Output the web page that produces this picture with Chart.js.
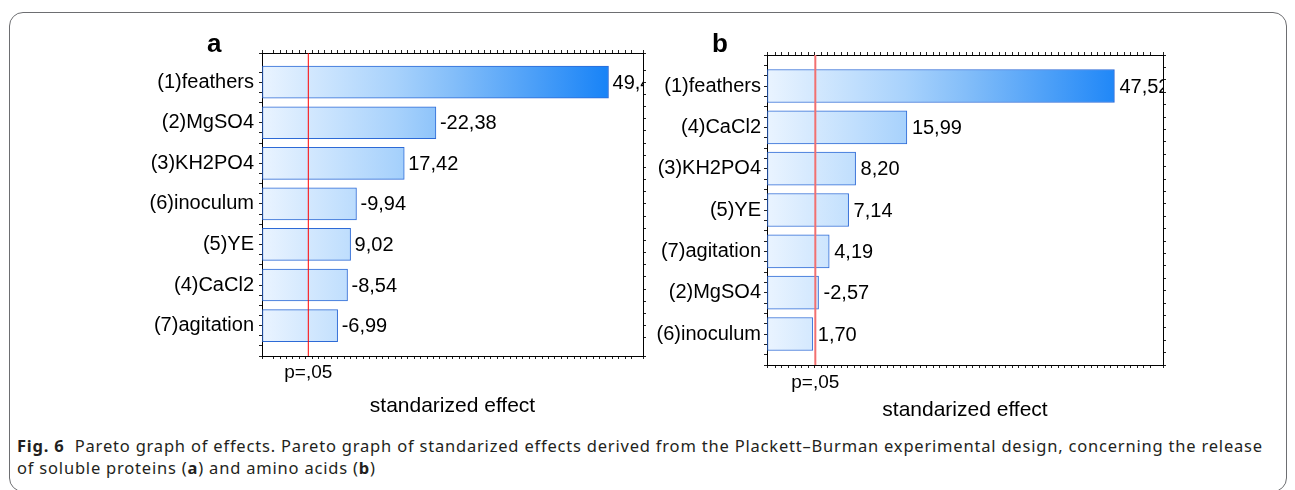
<!DOCTYPE html>
<html>
<head>
<meta charset="utf-8">
<script src="https://cdn.jsdelivr.net/npm/chart.js@4.4.0/dist/chart.umd.min.js"></script>
<style>
  body { margin: 0; width: 1295px; height: 490px; background: #fff; position: relative; overflow: hidden;
         font-family: "Liberation Sans", Arial, sans-serif; color: #000; }
  .frame { position: absolute; left: 9px; top: 12px; width: 1278px; height: 480px;
           border: 1px solid #6d6e71; border-radius: 14px; box-sizing: border-box; }
  .panel { position: absolute; top: 0; height: 430px; }
  .letter { position: absolute; top: 30px; font-weight: bold; font-size: 26px; line-height: 26px; }
  .caption { position: absolute; left: 17px; top: 435px; font-family: "Noto Sans", sans-serif; font-size: 16.5px;
             letter-spacing: 0.8px; line-height: 22px; color: #231f20; white-space: nowrap; }
</style>
</head>
<body>
<div class="frame"></div>
<div class="panel" style="left:0;width:660px"><canvas id="chartA"></canvas></div>
<div class="panel" style="left:650px;width:640px"><canvas id="chartB"></canvas></div>
<div class="letter" style="left:207px">a</div>
<div class="letter" style="left:712px">b</div>
<div class="caption"><b>Fig. 6</b>&nbsp; Pareto graph of effects. Pareto graph of standarized effects derived from the Plackett–Burman experimental design, concerning the release<br>of soluble proteins (<b>a</b>) and amino acids (<b>b</b>)</div>

<script>
// panel a: soluble proteins
const categoriesA = ["(1)feathers", "(2)MgSO4", "(3)KH2PO4", "(6)inoculum", "(5)YE", "(4)CaCl2", "(7)agitation"];
const effectsA = [49.4, -22.38, 17.42, -9.94, 9.02, -8.54, -6.99];
const xRangeA = [-4.85, 54.8];
const pCritA = 2.4;

// panel b: amino acids
const categoriesB = ["(1)feathers", "(4)CaCl2", "(3)KH2PO4", "(5)YE", "(7)agitation", "(2)MgSO4", "(6)inoculum"];
const effectsB = [47.52, 15.99, 8.20, 7.14, 4.19, -2.57, 1.70];
const xRangeB = [-5.26, 54.9];
const pCritB = 2.08;

const pLabel = "p=,05";
const axisTitle = "standarized effect";

const FONT = "'Liberation Sans', Arial, sans-serif";

function fillGradient(c) {
    const area = c.chart.chartArea;
    if (!area) return '#9ccbfb';
    const g = c.chart.ctx.createLinearGradient(area.left, 0, area.right, 0);
    g.addColorStop(0, '#eaf4ff');
    g.addColorStop(0.35, '#a8d2fc');
    g.addColorStop(0.5, '#84bef9');
    g.addColorStop(0.9, '#1a84f7');
    g.addColorStop(1, '#0c79f3');
    return g;
}

// red p-line, value labels and the p=,05 text
const paretoMarks = {
    id: 'paretoMarks',
    afterDatasetsDraw(chart, args, opts) {
        const ctx = chart.ctx;
        const area = chart.chartArea;
        const xs = chart.scales.x;
        const px = xs.getPixelForValue(opts.pCrit);

        ctx.save();
        ctx.beginPath();
        ctx.rect(area.left, area.top, area.right - area.left, area.bottom - area.top);
        ctx.clip();

        ctx.font = '20px ' + FONT;
        ctx.fillStyle = '#000';
        ctx.textAlign = 'left';
        ctx.textBaseline = 'middle';
        const meta = chart.getDatasetMeta(0);
        meta.data.forEach((bar, i) => {
            const txt = opts.effects[i].toFixed(2).replace('.', ',');
            ctx.fillText(txt, bar.x + opts.labelGap, bar.y + 1);
        });

        ctx.strokeStyle = opts.lineColor;
        ctx.lineWidth = opts.lineWidth;
        ctx.beginPath();
        ctx.moveTo(px, area.top);
        ctx.lineTo(px, area.bottom);
        ctx.stroke();
        ctx.restore();

        ctx.save();
        ctx.font = '19px ' + FONT;
        ctx.fillStyle = '#000';
        ctx.textAlign = 'center';
        ctx.textBaseline = 'middle';
        ctx.fillText(pLabel, px, area.bottom + opts.pOffset);
        ctx.restore();
    }
};

function paretoChart(id, cats, effects, xRange, yRange, pCrit, lay) {
    const bars = effects.map((v, i) => ({ x: Math.abs(v), y: i }));
    const edge = { color: '#000', width: 1 };
    const ticksGrid = { drawOnChartArea: false, tickLength: 3, color: '#222', offset: false };

    return new Chart(document.getElementById(id), {
        type: 'bar',
        data: {
            datasets: [{
                data: bars,
                base: xRange[0],
                backgroundColor: fillGradient,
                borderColor: '#2d6ad6',
                borderWidth: 1,
                borderSkipped: false,
                barThickness: lay.bar
            }]
        },
        options: {
            indexAxis: 'y',
            responsive: true,
            maintainAspectRatio: false,
            animation: false,
            layout: { padding: lay.padding },
            plugins: {
                legend: { display: false },
                tooltip: { enabled: false },
                paretoMarks: {
                    effects: effects, pCrit: pCrit, labelGap: lay.labelGap,
                    lineColor: lay.lineColor, lineWidth: lay.lineWidth, pOffset: lay.pOffset
                }
            },
            scales: {
                x: {
                    type: 'linear', position: 'bottom', min: xRange[0], max: xRange[1],
                    ticks: { display: false, stepSize: 1 },
                    grid: ticksGrid, border: edge,
                    title: {
                        display: true, text: axisTitle, color: '#000',
                        font: { family: FONT, size: 21 },
                        padding: { top: 0, bottom: lay.titlePad }
                    },
                    afterFit: (s) => { s.height = lay.xHeight; }
                },
                x2: {
                    type: 'linear', position: 'top', min: xRange[0], max: xRange[1],
                    ticks: { display: false, stepSize: 1 },
                    grid: ticksGrid, border: edge,
                    afterFit: (s) => { s.height = 4; }
                },
                y: {
                    type: 'linear', position: 'left', reverse: true, offset: false,
                    min: yRange[0], max: yRange[1],
                    ticks: {
                        stepSize: 0.25, autoSkip: false, color: '#000', padding: lay.catPad,
                        font: { family: FONT, size: 20 },
                        callback: (v) => (Number.isInteger(v) && cats[v]) ? cats[v] : ''
                    },
                    grid: ticksGrid, border: edge,
                    afterFit: (s) => { s.width = lay.yWidth; }
                },
                y2: {
                    type: 'linear', position: 'right', reverse: true, offset: false,
                    min: yRange[0], max: yRange[1],
                    ticks: { display: false, stepSize: 0.3 },
                    grid: ticksGrid, border: edge,
                    afterFit: (s) => { s.width = 4; }
                }
            }
        },
        plugins: [paretoMarks]
    });
}

paretoChart('chartA', categoriesA, effectsA, xRangeA, [-0.72, 6.75], pCritA, {
    padding: { left: 0, top: 49, right: 13, bottom: 0 },
    yWidth: 262, xHeight: 74, titlePad: 11, bar: 32, catPad: 5, labelGap: 4,
    lineColor: '#ff0000', lineWidth: 1, pOffset: 17
});

paretoChart('chartB', categoriesB, effectsB, xRangeB, [-0.75, 6.75], pCritB, {
    padding: { left: 0, top: 51, right: 123, bottom: 0 },
    yWidth: 117, xHeight: 65, titlePad: 7, bar: 33, catPad: 3, labelGap: 5,
    lineColor: '#f27070', lineWidth: 2, pOffset: 18
});
</script>
</body>
</html>
